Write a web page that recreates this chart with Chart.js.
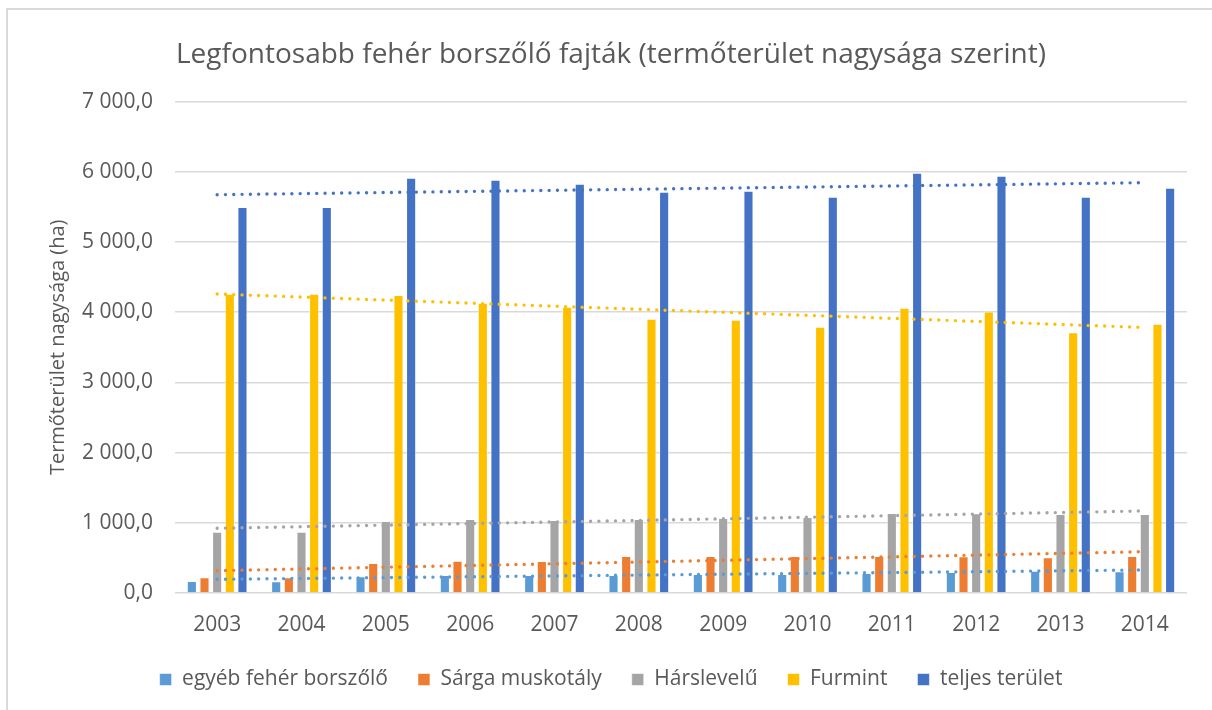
<!DOCTYPE html>
<html>
<head>
<meta charset="utf-8">
<script src="https://cdn.jsdelivr.net/npm/chart.js@4.4.1/dist/chart.umd.min.js"></script>
<style>
  html, body { margin: 0; padding: 0; background: #fff; overflow: hidden; }
  #frame { position: absolute; left: 6px; top: 8px; width: 1400px; height: 900px; border: 2px solid #d9d9d9; }
  #wrap { position: absolute; left: 0; top: 0; width: 1212px; height: 710px; }
</style>
</head>
<body>
<div id="frame"></div>
<div id="wrap"><canvas id="chart"></canvas></div>
<script>
// ---- adatok ----
const years = ['2003', '2004', '2005', '2006', '2007', '2008', '2009', '2010', '2011', '2012', '2013', '2014']

const egyeb      = [171, 167, 238, 257, 257, 257, 271, 271, 285, 299, 318, 309]
const sarga      = [224, 224, 428, 461, 456, 527, 527, 527, 527, 523, 509, 527]
const harslevelu = [874, 874, 1026, 1055, 1040, 1055, 1069, 1083, 1140, 1136, 1126, 1126]
const furmint    = [4263, 4263, 4244, 4135, 4077, 3906, 3892, 3792, 4063, 4011, 3716, 3835]
const teljes     = [5500, 5500, 5917, 5888, 5831, 5717, 5731, 5646, 5988, 5945, 5646, 5774]

// lineáris trendvonalak végpontjai (első és utolsó év)
const trendEgyeb      = [195, 328]
const trendSarga      = [318, 589]
const trendHarslevelu = [922, 1169]
const trendFurmint    = [4259, 3782]
const trendTeljes     = [5674, 5845]

const yTicks = [0, 1000, 2000, 3000, 4000, 5000, 6000, 7000]

const FONT = "'Open Sans', sans-serif"
const TXT  = '#595959'

function barSet(label, data, color) {
  return {
    type: 'bar', label, data,
    backgroundColor: color,
    borderColor: 'rgba(255,255,255,0.55)',
    borderWidth: 1,
    barPercentage: 0.8, categoryPercentage: 0.75,
    order: 2,
  }
}

// két végpont, közte üres helyek -> egyenes szakasz
function trendSet(ends, color) {
  const data = years.map(() => null)
  data[0] = ends[0]
  data[years.length - 1] = ends[1]
  return {
    type: 'line', label: '', data,
    borderColor: color, backgroundColor: color,
    borderWidth: 3.4, borderDash: [0, 8.3], borderCapStyle: 'round',
    spanGaps: true, pointRadius: 0, pointHoverRadius: 0, fill: false,
    order: 1,
  }
}

const fmt = v => {
  const s = Math.round(v).toString().replace(/\B(?=(\d{3})+(?!\d))/g, ' ')
  return s + ',0'
}

new Chart(document.getElementById('chart'), {
  type: 'bar',
  data: {
    labels: years,
    datasets: [
      barSet('egyéb fehér borszőlő', egyeb, '#5B9BD5'),
      barSet('Sárga muskotály', sarga, '#ED7D31'),
      barSet('Hárslevelű', harslevelu, '#A5A5A5'),
      barSet('Furmint', furmint, '#FFC000'),
      barSet('teljes terület', teljes, '#4472C4'),
      trendSet(trendEgyeb, '#5B9BD5'),
      trendSet(trendSarga, '#ED7D31'),
      trendSet(trendHarslevelu, '#A5A5A5'),
      trendSet(trendFurmint, '#FFC000'),
      trendSet(trendTeljes, '#4472C4'),
    ]
  },
  options: {
    responsive: true, maintainAspectRatio: false, animation: false,
    layout: { padding: { left: 35, right: 25, top: 0, bottom: 10 } },
    plugins: {
      tooltip: { enabled: false },
      title: {
        display: true,
        text: 'Legfontosabb fehér borszőlő fajták (termőterület nagysága szerint)',
        color: TXT,
        font: { family: FONT, size: 28, weight: 'normal' },
        padding: { top: 38, bottom: 30 }
      },
      legend: {
        position: 'bottom',
        labels: {
          color: TXT,
          font: { family: FONT, size: 21 },
          boxWidth: 12, boxHeight: 12,
          padding: 30,
          filter: item => item.datasetIndex < 5
        }
      }
    },
    scales: {
      x: {
        grid: { display: false, drawTicks: false },
        border: { display: false },
        ticks: { color: TXT, font: { family: FONT, size: 21 }, padding: 19, maxRotation: 0 },
        afterFit: s => { s.height = 46 }
      },
      y: {
        min: 0, max: 7000,
        afterBuildTicks: s => { s.ticks = yTicks.map(v => ({ value: v })) },
        grid: { color: '#d9d9d9', lineWidth: 1.5, drawTicks: false },
        border: { display: false },
        ticks: { color: TXT, font: { family: FONT, size: 21 }, padding: 22, callback: v => fmt(v) },
        title: {
          display: true, text: 'Termőterület nagysága (ha)',
          color: TXT, font: { family: FONT, size: 20 },
          padding: { top: 11, bottom: 0 }
        },
        afterFit: s => { s.width = 140 }
      }
    }
  }
})
</script>
</body>
</html>
